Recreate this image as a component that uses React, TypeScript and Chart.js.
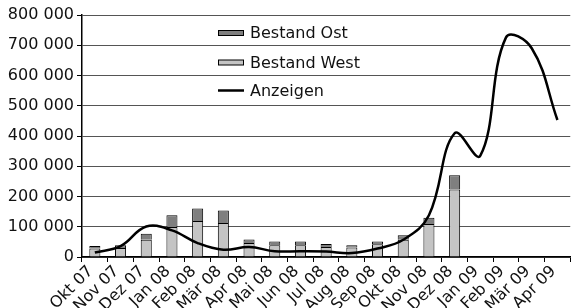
import React, { useEffect, useRef } from "react";
import { Chart, registerables } from "chart.js";

Chart.register(...registerables);

const categories = [
  "Okt 07", "Nov 07", "Dez 07", "Jan 08", "Feb 08", "Mär 08", "Apr 08", "Mai 08",
  "Jun 08", "Jul 08", "Aug 08", "Sep 08", "Okt 08", "Nov 08", "Dez 08", "Jan 09",
  "Feb 09", "Mär 09", "Apr 09",
];

const bestandWest = [28000, 30000, 57000, 99000, 119000, 112000, 46000, 39000, 39000, 33000, 31000, 42000, 57000, 109000, 223000, null, null, null, null];
const bestandOst = [8000, 9000, 20000, 39000, 41000, 42000, 12000, 12000, 12000, 10000, 8000, 9000, 15000, 21000, 47000, null, null, null, null];
const anzeigen = [15000, 36000, 101000, 88000, 46000, 24000, 33000, 19000, 19000, 18000, 13000, 28000, 57000, 138000, 409000, 335000, 726000, 690000, 453000];

const yTicks = [0, 100000, 200000, 300000, 400000, 500000, 600000, 700000, 800000];

const FONT = "'DejaVu Sans', sans-serif";
const OST_COLOR = "#7f7f7f";
const WEST_COLOR = "#c4c4c4";

const fmt = (v: number) => (v === 0 ? "0" : `${Math.round(v / 1000)} 000`);

const legendPlugin = {
  id: "customLegend",
  afterDatasetsDraw(chart: any) {
    const ctx = chart.ctx;
    ctx.save();
    const x0 = 218;
    const items = [
      { label: "Bestand Ost", type: "box", color: OST_COLOR, y: 33 },
      { label: "Bestand West", type: "box", color: WEST_COLOR, y: 62.5 },
      { label: "Anzeigen", type: "line", color: "#000", y: 90.5 },
    ];
    ctx.font = `16px ${FONT}`;
    ctx.textBaseline = "middle";
    ctx.textAlign = "left";
    for (const it of items) {
      if (it.type === "box") {
        ctx.fillStyle = it.color;
        ctx.fillRect(x0, it.y - 2.5, 26, 5);
        ctx.strokeStyle = "#000";
        ctx.lineWidth = 1;
        ctx.strokeRect(x0 + 0.5, it.y - 2.5, 25, 5);
      } else {
        ctx.strokeStyle = "#000";
        ctx.lineWidth = 2.5;
        ctx.beginPath();
        ctx.moveTo(x0, it.y);
        ctx.lineTo(x0 + 26, it.y);
        ctx.stroke();
      }
      ctx.fillStyle = "#111";
      ctx.fillText(it.label, x0 + 32, it.y + 1);
    }
    ctx.restore();
  },
};

export default function App() {
  const ref = useRef<HTMLCanvasElement | null>(null);

  useEffect(() => {
    if (!ref.current) return;
    const chart = new Chart(ref.current, {
      type: "bar",
      data: {
        labels: categories,
        datasets: [
          {
            type: "line",
            label: "Anzeigen",
            data: anzeigen,
            borderColor: "#000",
            borderWidth: 2.5,
            pointRadius: 0,
            tension: 0.4,
            fill: false,
            order: 0,
          } as any,
          {
            label: "Bestand West",
            data: bestandWest,
            backgroundColor: WEST_COLOR,
            borderColor: "#000",
            borderWidth: 1,
            barPercentage: 0.43,
            categoryPercentage: 1,
            stack: "s",
            order: 1,
          },
          {
            label: "Bestand Ost",
            data: bestandOst,
            backgroundColor: OST_COLOR,
            borderColor: "#000",
            borderWidth: 1,
            barPercentage: 0.43,
            categoryPercentage: 1,
            stack: "s",
            order: 1,
          },
        ],
      },
      options: {
        responsive: false,
        animation: false,
        layout: { padding: { top: 15, right: 0, left: 0, bottom: 0 } },
        plugins: {
          legend: { display: false },
          tooltip: { enabled: false },
        },
        scales: {
          x: {
            stacked: true,
            grid: {
              display: true,
              drawOnChartArea: false,
              offset: true,
              tickLength: 5,
              tickColor: "#000",
            },
            border: { color: "#000", width: 1.5 },
            ticks: {
              font: { family: FONT, size: 16 },
              color: "#111",
              minRotation: 45,
              maxRotation: 45,
              autoSkip: false,
              padding: 0,
              labelOffset: -4,
            },
            afterFit(scale: any) {
              scale.height = 51;
            },
          },
          y: {
            stacked: true,
            min: 0,
            max: 800000,
            afterBuildTicks(scale: any) {
              scale.ticks = yTicks.map((v) => ({ value: v }));
            },
            grid: {
              color: "#555",
              lineWidth: 1,
              tickLength: 5,
              tickColor: "#000",
            },
            border: { color: "#000", width: 1.5 },
            ticks: {
              font: { family: FONT, size: 16 },
              color: "#111",
              padding: 3,
              callback: (v: any) => fmt(Number(v)),
            },
            afterFit(scale: any) {
              scale.width = 82;
            },
          },
        },
      },
      plugins: [legendPlugin],
    });
    return () => chart.destroy();
  }, []);

  return (
    <div style={{ position: "absolute", left: 0, top: 0, width: 571, height: 308, background: "#fff" }}>
      <canvas ref={ref} width={571} height={308} />
    </div>
  );
}
